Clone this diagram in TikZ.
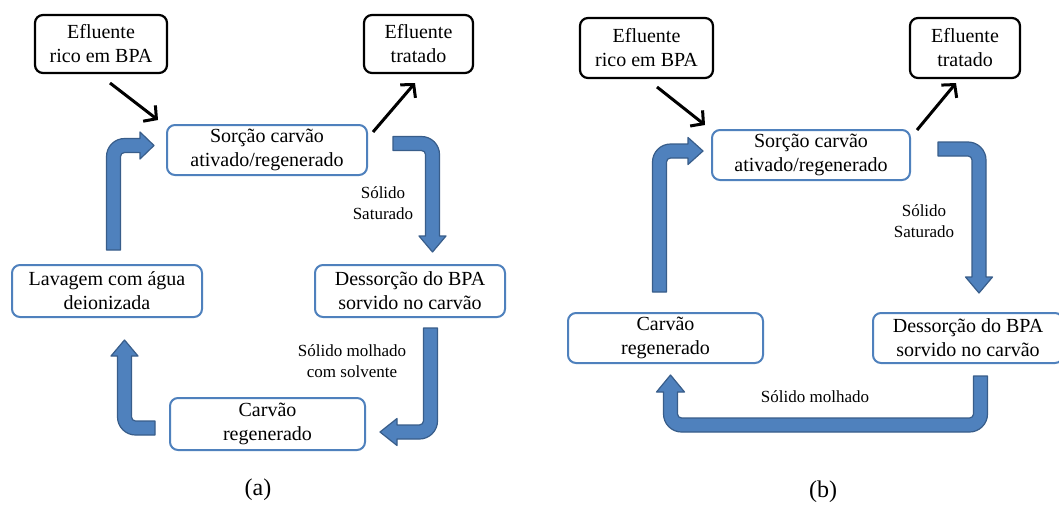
\documentclass[tikz,border=0pt]{standalone}
\usepackage{fontspec}
\setmainfont{Liberation Serif}
\usetikzlibrary{arrows.meta}
\definecolor{boxblue}{HTML}{4F81BD}
\definecolor{arrfill}{HTML}{4F81BD}
\definecolor{arrline}{HTML}{385D8A}
\begin{document}
\begin{tikzpicture}[x=1pt,y=-1pt,
  blackbox/.style={draw=black, line width=2.2pt, rounded corners=8pt, align=center, inner sep=0pt, fill=white, font=\fontsize{20}{24}\selectfont},
  bluebox/.style={draw=boxblue, line width=2pt, rounded corners=8pt, align=center, inner sep=0pt, fill=white, font=\fontsize{20}{24}\selectfont},
  blockarrow/.style={fill=arrfill, draw=arrline, line width=1.2pt, line join=round},
  blackarrow/.style={line width=3pt, -{Straight Barb[length=9pt,width=20pt]}},
  lbl/.style={align=center, inner sep=0pt, font=\fontsize{17}{21}\selectfont},
  captext/.style={inner sep=0pt, font=\fontsize{24}{28}\selectfont}]
\clip (0,0) rectangle (1059,506);
\fill[white] (0,0) rectangle (1059,506);

% ---------------- panel (a)
\node[blackbox, minimum width=132pt, minimum height=58pt] (ea1) at (101,44) {Efluente\\rico em BPA};
\node[blackbox, minimum width=109pt, minimum height=58pt] (ea2) at (418.5,44) {Efluente\\tratado};
\node[bluebox, minimum width=200pt, minimum height=50pt] (sa) at (267,150) {Sorção carvão\\ativado/regenerado};
\node[bluebox, minimum width=190pt, minimum height=52pt] (la) at (107,291) {Lavagem com água\\deionizada};
\node[bluebox, minimum width=190pt, minimum height=52pt] (da) at (410,291) {Dessorção do BPA\\sorvido no carvão};
\node[bluebox, minimum width=195pt, minimum height=52pt] (ca) at (267.5,424) {Carvão\\regenerado};

\coordinate (ain1) at (110,83);
\coordinate (ain2) at (158,120);
\coordinate (aout1) at (373,132);
\coordinate (aout2) at (415,83);
\draw[blackarrow] (ain1) -- (ain2);
\draw[blackarrow] (aout1) -- (aout2);

% up then right
\draw[blockarrow] (106.5,250) -- (106.5,156.5) .. controls (106.5,146.6) and (114.6,138.5) .. (124.5,138.5)
  -- (140,138.5) -- (140,132) -- (154,145.5) -- (140,159) -- (140,152.5) -- (124.5,152.5)
  .. controls (122.3,152.5) and (120.5,154.3) .. (120.5,156.5) -- (120.5,250) -- cycle;
% right then down
\draw[blockarrow] (393,136.5) -- (421.5,136.5) .. controls (431.4,136.5) and (439.5,144.6) .. (439.5,154.5)
  -- (439.5,236) -- (446,236) -- (432.5,252) -- (419,236) -- (425.5,236) -- (425.5,154.5)
  .. controls (425.5,152.3) and (423.7,150.5) .. (421.5,150.5) -- (393,150.5) -- cycle;
% down then left
\draw[blockarrow] (423.5,328) -- (437.5,328) -- (437.5,421) .. controls (437.5,430.9) and (429.4,439) .. (419.5,439)
  -- (397,439) -- (397,445.5) -- (380,432) -- (397,418.5) -- (397,425) -- (419.5,425)
  .. controls (421.7,425) and (423.5,422.8) .. (423.5,421) -- cycle;
% left then up
\draw[blockarrow] (155,435) -- (135.5,435) .. controls (125.6,435) and (117.5,426.9) .. (117.5,417)
  -- (117.5,356) -- (111,356) -- (124.5,340) -- (138,356) -- (131.5,356) -- (131.5,417)
  .. controls (131.5,419.2) and (133.3,421) .. (135.5,421) -- (155,421) -- cycle;

\node[lbl] (lsa) at (383,203) {Sólido\\Saturado};
\node[lbl] (lma) at (352,361) {Sólido molhado\\com solvente};
\node[captext] (capa) at (258,490) {(a)};

% ---------------- panel (b)
\node[blackbox, minimum width=133pt, minimum height=60pt] (eb1) at (646.5,48) {Efluente\\rico em BPA};
\node[blackbox, minimum width=110pt, minimum height=60pt] (eb2) at (965,48) {Efluente\\tratado};
\node[bluebox, minimum width=198pt, minimum height=50pt] (sb) at (811,155) {Sorção carvão\\ativado/regenerado};
\node[bluebox, minimum width=195pt, minimum height=50pt] (cb) at (665.5,338) {Carvão\\regenerado};
\node[bluebox, minimum width=190pt, minimum height=50pt] (db) at (968,338) {Dessorção do BPA\\sorvido no carvão};

\coordinate (bin1) at (657,87);
\coordinate (bin2) at (705,125);
\coordinate (bout1) at (917,130);
\coordinate (bout2) at (956,83);
\draw[blackarrow] (bin1) -- (bin2);
\draw[blackarrow] (bout1) -- (bout2);

% up then right
\draw[blockarrow] (652.5,292) -- (652.5,162) .. controls (652.5,152.1) and (660.6,144) .. (670.5,144)
  -- (688,144) -- (688,137.5) -- (703,151) -- (688,164.5) -- (688,158) -- (670.5,158)
  .. controls (668.3,158) and (666.5,159.8) .. (666.5,162) -- (666.5,292) -- cycle;
% right then down
\draw[blockarrow] (938,142) -- (968,142) .. controls (977.9,142) and (986,150.1) .. (986,160)
  -- (986,277) -- (992.5,277) -- (979,293) -- (965.5,277) -- (972,277) -- (972,160)
  .. controls (972,157.8) and (970.2,156) .. (968,156) -- (938,156) -- cycle;
% down, left, up
\draw[blockarrow] (973.5,376) -- (987.5,376) -- (987.5,414) .. controls (987.5,423.9) and (979.4,432) .. (969.5,432)
  -- (681.5,432) .. controls (671.6,432) and (663.5,423.9) .. (663.5,414)
  -- (663.5,392) -- (656.5,392) -- (670.5,375) -- (684.5,392) -- (677.5,392) -- (677.5,414)
  .. controls (677.5,416.2) and (679.3,418) .. (681.5,418) -- (969.5,418)
  .. controls (971.7,418) and (973.5,416.2) .. (973.5,414) -- cycle;

\node[lbl] (lsb) at (924,221) {Sólido\\Saturado};
\node[lbl] (lmb) at (815,397) {Sólido molhado};
\node[captext] (capb) at (823,492) {(b)};
\end{tikzpicture}
\end{document}
